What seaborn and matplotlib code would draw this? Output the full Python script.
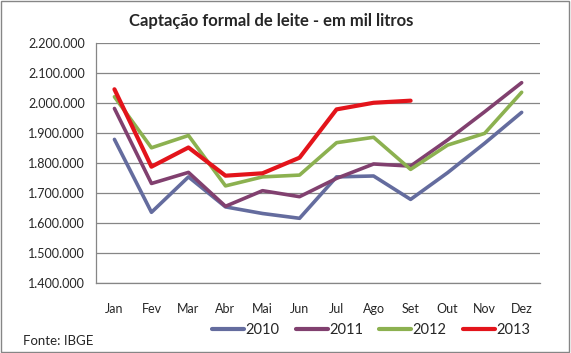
import numpy as np
import pandas as pd
import seaborn as sns
import matplotlib.pyplot as plt
from matplotlib.patches import Rectangle

meses = ['Jan', 'Fev', 'Mar', 'Abr', 'Mai', 'Jun', 'Jul', 'Ago', 'Set', 'Out', 'Nov', 'Dez']

# mil litros
v2010 = [1879000, 1636000, 1754000, 1654000, 1632000, 1616000, 1754000, 1757000, 1679000, 1768000, 1866000, 1969000]
v2011 = [1982000, 1732000, 1769000, 1656000, 1708000, 1688000, 1749000, 1797000, 1790000, 1877000, 1971000, 2068000]
v2012 = [2021000, 1851000, 1892000, 1724000, 1754000, 1760000, 1868000, 1886000, 1779000, 1860000, 1899000, 2036000]
v2013 = [2046000, 1788000, 1852000, 1758000, 1766000, 1818000, 1979000, 2001000, 2008000, np.nan, np.nan, np.nan]

anos = ['2010', '2011', '2012', '2013']
cores = ['#646C9E', '#81406F', '#8CB150', '#E3141B']

sns.set_style('white')
plt.rcParams['font.family'] = ['Lato', 'DejaVu Sans']

df = pd.DataFrame({
    'mes': meses * 4,
    'pos': list(range(12)) * 4,
    'ano': np.repeat(anos, 12),
    'valor': v2010 + v2011 + v2012 + v2013,
})

fig = plt.figure(figsize=(5.71, 3.53), dpi=100)
ax = fig.add_axes([0.168, 0.198, 0.778, 0.68])

sns.lineplot(data=df.dropna(), x='pos', y='valor', hue='ano', palette=dict(zip(anos, cores)),
             ax=ax, linewidth=2.6, legend=False, sort=True)
ax.lines[-1].set_linewidth(3.0)

ax.set_xlim(-0.5, 11.5)
ax.set_ylim(1400000, 2200000)
ax.set_yticks(np.arange(1400000, 2200001, 100000))
ax.set_yticklabels([f'{v:,}'.replace(',', '.') for v in range(1400000, 2200001, 100000)], fontsize=9)
ax.set_xticks(range(12))
ax.set_xticklabels(meses, fontsize=9)
ax.set_xticks(np.arange(-0.5, 12, 1), minor=True)
ax.tick_params(axis='x', which='major', length=0, pad=14)
ax.tick_params(axis='x', which='minor', length=4, color='#868686', direction='out')
ax.tick_params(axis='y', length=4, color='#868686', direction='out', pad=4)
ax.yaxis.grid(True, color='#868686', linewidth=0.9)
ax.set_axisbelow(True)
for s in ['top', 'right']:
    ax.spines[s].set_visible(False)
for s in ['left', 'bottom']:
    ax.spines[s].set_color('#868686')
    ax.spines[s].set_linewidth(0.9)
ax.set_xlabel('')
ax.set_ylabel('')

fig.text(0.475, 0.94, 'Captação formal de leite - em mil litros', ha='center', va='center',
         fontsize=12, fontweight='bold')
fig.text(0.04, 0.035, 'Fonte: IBGE', ha='left', va='center', fontsize=9.5)

handles = [plt.Line2D([0], [0], color=c, linewidth=3.0) for c in cores]
fig.legend(handles, anos, loc='center', bbox_to_anchor=(0.65, 0.065), ncol=4, frameon=False,
           fontsize=10.5, handlelength=2.2, handletextpad=0.1, columnspacing=1.1)

fig.add_artist(Rectangle((0.002, 0.003), 0.994, 0.993, transform=fig.transFigure,
                         fill=False, edgecolor='#868686', linewidth=1.0))

fig.savefig('out.png', dpi=100)
